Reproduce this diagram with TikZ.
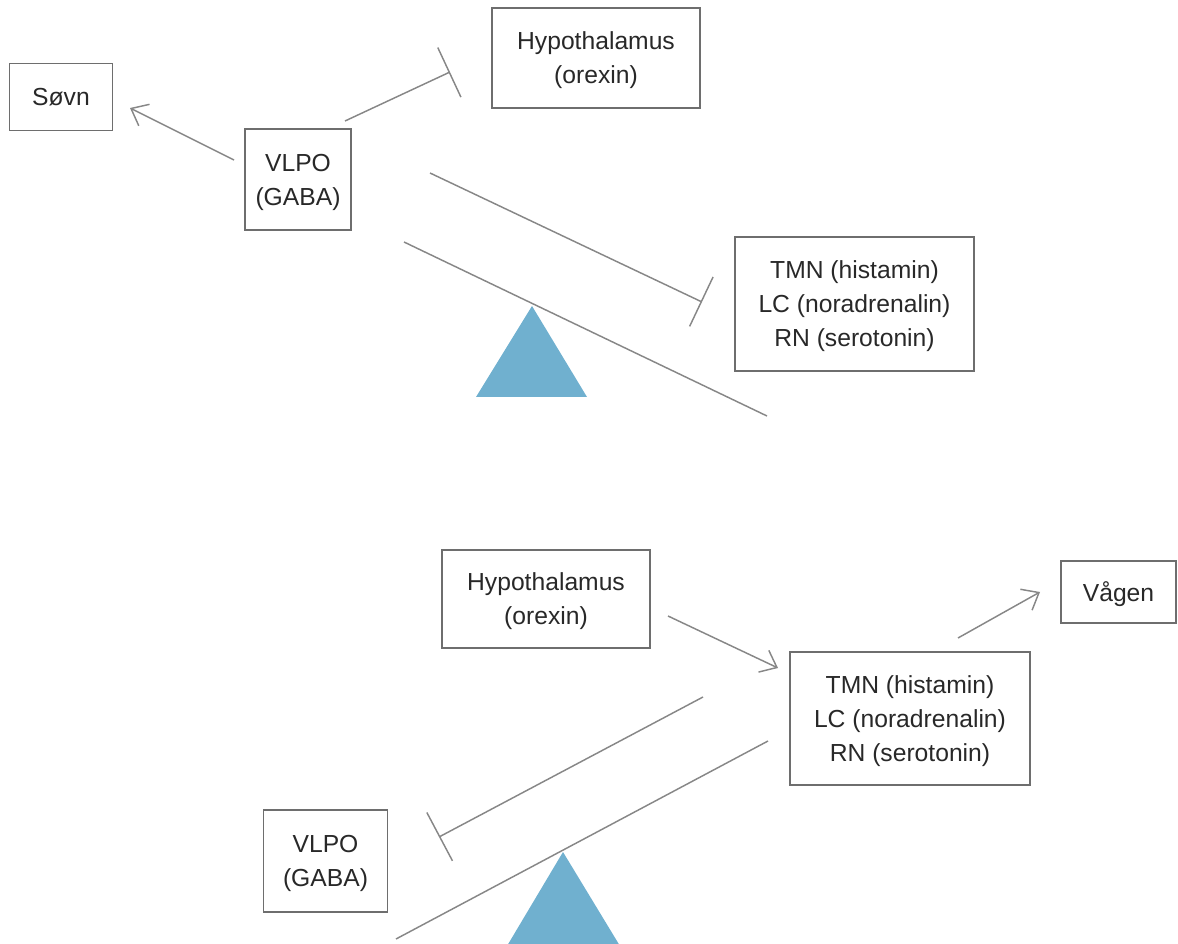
\documentclass[tikz,border=0pt]{standalone}
\usepackage{fontspec}
\setmainfont{Liberation Sans}
\usetikzlibrary{arrows.meta}
\definecolor{seesaw}{RGB}{112,176,207}
\definecolor{boxline}{RGB}{110,110,110}
\definecolor{conn}{RGB}{135,135,135}
\definecolor{txt}{RGB}{40,40,40}
\tikzset{
  box/.style={draw=boxline, line width=1.3pt, text=txt, align=center, inner sep=0pt,
    text depth=0pt, font=\fontsize{18.5}{25.5}\selectfont},
  link/.style={draw=conn, line width=1.1pt},
  act/.style={link, -{Straight Barb[length=11pt,width=18pt,line width=1.1pt]}},
  inh/.style={link, -{Bar[width=41pt,line width=1.1pt]}},
  beam/.style={draw=conn, line width=1.1pt},
  fulcrum/.style={fill=seesaw, draw=none}
}
\begin{document}
\begin{tikzpicture}[x=0.75pt, y=-0.75pt]
\useasboundingbox (0,0) rectangle (1178,944);
% ---------- top panel ----------
\node[box, minimum width=103*0.75pt, minimum height=67*0.75pt] (sovn) at (61,97) {Søvn};
\node[box, minimum width=106*0.75pt, minimum height=101*0.75pt] (vlpoA) at (298,179.5) {VLPO\\(GABA)};
\node[box, minimum width=208*0.75pt, minimum height=100*0.75pt] (hypA) at (596,58) {Hypothalamus\\(orexin)};
\node[box, minimum width=239*0.75pt, minimum height=134*0.75pt] (tmnA) at (854.5,304) {TMN (histamin)\\LC (noradrenalin)\\RN (serotonin)};
\coordinate (a1s) at (234,160);
\coordinate (a1e) at (130,108);
\coordinate (a2s) at (345,121);
\coordinate (a2e) at (450,72);
\coordinate (a3s) at (430,173);
\coordinate (a3e) at (702,302);
\draw[act] (a1s) -- (a1e);
\draw[inh] (a2s) -- (a2e);
\draw[inh] (a3s) -- (a3e);
\coordinate (b1) at (404,242);
\coordinate (b2) at (767,416);
\draw[beam] (b1) -- (b2);
\fill[fulcrum] (532,306) -- (587,397) -- (476,397) -- cycle;
% ---------- bottom panel ----------
\node[box, minimum width=208*0.75pt, minimum height=98*0.75pt] (hypB) at (546,599) {Hypothalamus\\(orexin)};
\node[box, minimum width=115*0.75pt, minimum height=62*0.75pt] (vagen) at (1118.5,592) {Vågen};
\node[box, minimum width=240*0.75pt, minimum height=133*0.75pt] (tmnB) at (910,718.5) {TMN (histamin)\\LC (noradrenalin)\\RN (serotonin)};
\node[box, minimum width=124*0.75pt, minimum height=102*0.75pt] (vlpoB) at (325.5,861) {VLPO\\(GABA)};
\coordinate (c1s) at (668,616);
\coordinate (c1e) at (778,668);
\coordinate (c2s) at (958,638);
\coordinate (c2e) at (1040,592);
\coordinate (c3s) at (703,697);
\coordinate (c3e) at (439,837);
\draw[act] (c1s) -- (c1e);
\draw[act] (c2s) -- (c2e);
\draw[inh] (c3s) -- (c3e);
\coordinate (d1) at (768,741);
\coordinate (d2) at (396,939);
\draw[beam] (d1) -- (d2);
\fill[fulcrum] (563,852) -- (620,946) -- (507,946) -- cycle;
\end{tikzpicture}
\end{document}
